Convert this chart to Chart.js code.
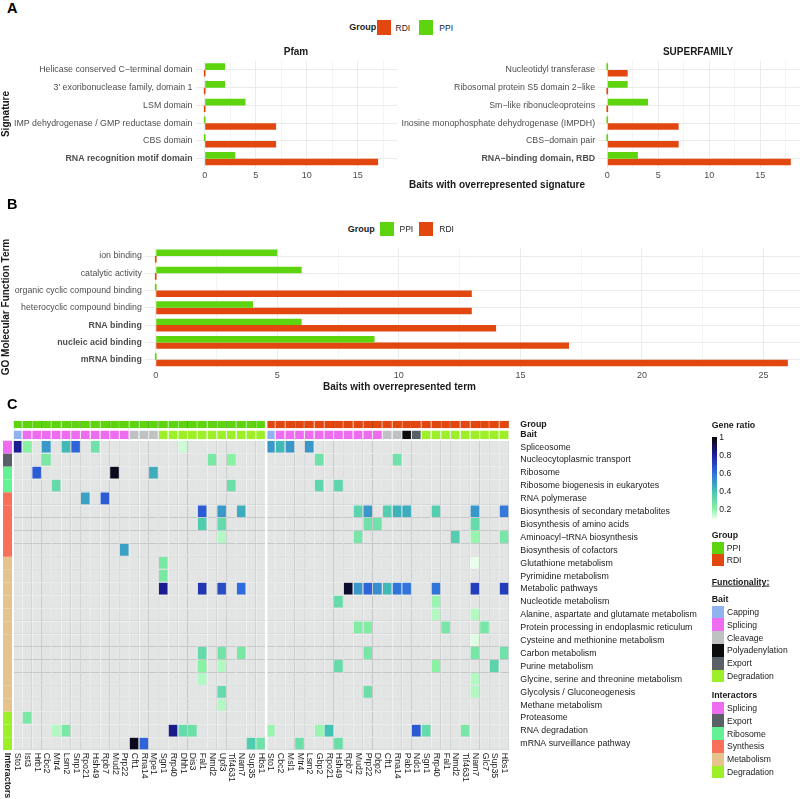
<!DOCTYPE html>
<html>
<head>
<meta charset="utf-8">
<script src="https://cdn.jsdelivr.net/npm/chart.js@4.4.1/dist/chart.umd.min.js"></script>
<style>
html,body{margin:0;padding:0;background:#fff;}
body{width:800px;height:799px;position:relative;overflow:hidden;font-family:"Liberation Sans",Arial,Helvetica,sans-serif;}
canvas{position:absolute;}
.tx{position:absolute;white-space:nowrap;line-height:1;color:#1a1a1a;}
.b{font-weight:bold;}
.c{transform:translate(-50%,-50%);}
.l{transform:translate(0,-50%);}
.r90{transform:translate(-50%,-50%) rotate(-90deg);}
.sw{position:absolute;}
</style>
</head>
<body>
<canvas id="pfam" width="400" height="150" style="left:0;top:40px"></canvas>
<canvas id="sf" width="400" height="150" style="left:400px;top:40px"></canvas>
<canvas id="go" width="800" height="150" style="left:0;top:238px"></canvas>
<canvas id="hm" width="800" height="399" style="left:0;top:400px"></canvas>
<div id="overlay"></div>
<script>
// ================= DATA =================
const groups = ['PPI', 'RDI'];

// Panel A – Pfam (top to bottom)
const pfamTerms = ['Helicase conserved C\u2212terminal domain', "3' exoribonuclease family, domain 1", 'LSM domain',
  'IMP dehydrogenase / GMP reductase domain', 'CBS domain', 'RNA recognition motif domain'];
const pfamPPI = [2, 2, 4, 0, 0, 3];
const pfamRDI = [0, 0, 0, 7, 7, 17];

// Panel A – SUPERFAMILY (top to bottom)
const sfTerms = ['Nucleotidyl transferase', 'Ribosomal protein S5 domain 2\u2212like', 'Sm\u2212like ribonucleoproteins',
  'Inosine monophosphate dehydrogenase (IMPDH)', 'CBS\u2212domain pair', 'RNA\u2212binding domain, RBD'];
const sfPPI = [0, 2, 4, 0, 0, 3];
const sfRDI = [2, 0, 0, 7, 7, 18];

// Panel B – GO molecular function (top to bottom)
const goTerms = ['ion binding', 'catalytic activity', 'organic cyclic compound binding', 'heterocyclic compound binding',
  'RNA binding', 'nucleic acid binding', 'mRNA binding'];
const goPPI = [5, 6, 0, 4, 6, 9, 0];
const goRDI = [0, 0, 13, 13, 14, 17, 26];

const boldTerms = ['RNA recognition motif domain', 'RNA\u2212binding domain, RBD', 'RNA binding', 'nucleic acid binding', 'mRNA binding'];
const xTicksA = [0, 5, 10, 15];
const xTicksB = [0, 5, 10, 15, 20, 25];

// Panel C – heatmap
const pathways = ['Spliceosome', 'Nucleocytoplasmic transport', 'Ribosome', 'Ribosome biogenesis in eukaryotes', 'RNA polymerase',
  'Biosynthesis of secondary metabolites', 'Biosynthesis of amino acids', 'Aminoacyl\u2212tRNA biosynthesis', 'Biosynthesis of cofactors',
  'Glutathione metabolism', 'Pyrimidine metabolism', 'Metabolic pathways', 'Nucleotide metabolism',
  'Alanine, aspartate and glutamate metabolism', 'Protein processing in endoplasmic reticulum', 'Cysteine and methionine metabolism',
  'Carbon metabolism', 'Purine metabolism', 'Glycine, serine and threonine metabolism', 'Glycolysis / Gluconeogenesis',
  'Methane metabolism', 'Proteasome', 'RNA degradation', 'mRNA surveillance pathway'];
const interactorClass = ['Splicing', 'Export', 'Ribosome', 'Ribosome', 'Synthesis', 'Synthesis', 'Synthesis', 'Synthesis', 'Synthesis',
  'Metabolism', 'Metabolism', 'Metabolism', 'Metabolism', 'Metabolism', 'Metabolism', 'Metabolism', 'Metabolism', 'Metabolism',
  'Metabolism', 'Metabolism', 'Metabolism', 'Degradation', 'Degradation', 'Degradation'];

const ppiBaits = ['Sto1', 'Ist3', 'Hrb1', 'Cbc2', 'Mtr4', 'Lsm2', 'Snp1', 'Rpo21', 'Hsh49', 'Rpb7', 'Mud2', 'Prp22', 'Cft1', 'Rna14',
  'Mpe1', 'Sgn1', 'Rrp40', 'Dhh1', 'Dis3', 'Fal1', 'Nmd2', 'Upf3', 'Tif4631', 'Nam7', 'Sup35', 'Hbs1'];
const ppiBaitClass = ['Capping', 'Splicing', 'Splicing', 'Splicing', 'Splicing', 'Splicing', 'Splicing', 'Splicing', 'Splicing', 'Splicing',
  'Splicing', 'Splicing', 'Cleavage', 'Cleavage', 'Cleavage', 'Degradation', 'Degradation', 'Degradation', 'Degradation', 'Degradation',
  'Degradation', 'Degradation', 'Degradation', 'Degradation', 'Degradation', 'Degradation'];
const rdiBaits = ['Sto1', 'Cbc2', 'Msl1', 'Mtr4', 'Lsm2', 'Gbp2', 'Rpo21', 'Hsh49', 'Rpb7', 'Mud2', 'Prp22', 'Dbp2', 'Cft1', 'Rna14',
  'Pab1', 'Ndc1', 'Sgn1', 'Rrp40', 'Fal1', 'Nmd2', 'Tif4631', 'Nam7', 'Glc7', 'Sup35', 'Hbs1'];
const rdiBaitClass = ['Capping', 'Splicing', 'Splicing', 'Splicing', 'Splicing', 'Splicing', 'Splicing', 'Splicing', 'Splicing', 'Splicing',
  'Splicing', 'Splicing', 'Cleavage', 'Cleavage', 'Polyadenylation', 'Export', 'Degradation', 'Degradation', 'Degradation', 'Degradation',
  'Degradation', 'Degradation', 'Degradation', 'Degradation', 'Degradation'];

// gene ratio of enriched pathway per bait  [pathway, bait, ratio]
const ppiRatio = [
  ['Spliceosome', 'Sto1', 0.82], ['Spliceosome', 'Ist3', 0.2], ['Spliceosome', 'Cbc2', 0.5], ['Spliceosome', 'Lsm2', 0.42],
  ['Spliceosome', 'Snp1', 0.62], ['Spliceosome', 'Hsh49', 0.27], ['Spliceosome', 'Dhh1', 0.12],
  ['Nucleocytoplasmic transport', 'Cbc2', 0.24], ['Nucleocytoplasmic transport', 'Nmd2', 0.24], ['Nucleocytoplasmic transport', 'Tif4631', 0.2],
  ['Ribosome', 'Hrb1', 0.64], ['Ribosome', 'Mud2', 0.97], ['Ribosome', 'Mpe1', 0.45],
  ['Ribosome biogenesis in eukaryotes', 'Mtr4', 0.3], ['Ribosome biogenesis in eukaryotes', 'Tif4631', 0.28],
  ['RNA polymerase', 'Rpo21', 0.48], ['RNA polymerase', 'Rpb7', 0.64],
  ['Biosynthesis of secondary metabolites', 'Fal1', 0.64], ['Biosynthesis of secondary metabolites', 'Upf3', 0.5],
  ['Biosynthesis of secondary metabolites', 'Nam7', 0.45],
  ['Biosynthesis of amino acids', 'Fal1', 0.36], ['Biosynthesis of amino acids', 'Upf3', 0.3],
  ['Aminoacyl\u2212tRNA biosynthesis', 'Upf3', 0.15],
  ['Biosynthesis of cofactors', 'Prp22', 0.48],
  ['Glutathione metabolism', 'Sgn1', 0.24], ['Pyrimidine metabolism', 'Sgn1', 0.24],
  ['Metabolic pathways', 'Sgn1', 0.82], ['Metabolic pathways', 'Fal1', 0.74], ['Metabolic pathways', 'Upf3', 0.68], ['Metabolic pathways', 'Nam7', 0.6],
  ['Carbon metabolism', 'Fal1', 0.3], ['Carbon metabolism', 'Upf3', 0.26], ['Carbon metabolism', 'Nam7', 0.24],
  ['Purine metabolism', 'Fal1', 0.2], ['Purine metabolism', 'Upf3', 0.15],
  ['Glycine, serine and threonine metabolism', 'Fal1', 0.15],
  ['Glycolysis / Gluconeogenesis', 'Upf3', 0.3], ['Methane metabolism', 'Upf3', 0.15],
  ['Proteasome', 'Ist3', 0.24],
  ['RNA degradation', 'Mtr4', 0.15], ['RNA degradation', 'Lsm2', 0.24], ['RNA degradation', 'Rrp40', 0.83],
  ['RNA degradation', 'Dhh1', 0.3], ['RNA degradation', 'Dis3', 0.28],
  ['mRNA surveillance pathway', 'Cft1', 0.97], ['mRNA surveillance pathway', 'Rna14', 0.62],
  ['mRNA surveillance pathway', 'Sup35', 0.36], ['mRNA surveillance pathway', 'Hbs1', 0.27]
];
const rdiRatio = [
  ['Spliceosome', 'Sto1', 0.5], ['Spliceosome', 'Cbc2', 0.42], ['Spliceosome', 'Msl1', 0.5], ['Spliceosome', 'Lsm2', 0.5],
  ['Nucleocytoplasmic transport', 'Gbp2', 0.27], ['Nucleocytoplasmic transport', 'Rna14', 0.27],
  ['Ribosome biogenesis in eukaryotes', 'Gbp2', 0.32], ['Ribosome biogenesis in eukaryotes', 'Hsh49', 0.32],
  ['Biosynthesis of secondary metabolites', 'Mud2', 0.33], ['Biosynthesis of secondary metabolites', 'Prp22', 0.5],
  ['Biosynthesis of secondary metabolites', 'Cft1', 0.35], ['Biosynthesis of secondary metabolites', 'Rna14', 0.44],
  ['Biosynthesis of secondary metabolites', 'Pab1', 0.45], ['Biosynthesis of secondary metabolites', 'Rrp40', 0.35],
  ['Biosynthesis of secondary metabolites', 'Nam7', 0.5], ['Biosynthesis of secondary metabolites', 'Hbs1', 0.57],
  ['Biosynthesis of amino acids', 'Prp22', 0.27], ['Biosynthesis of amino acids', 'Dbp2', 0.27], ['Biosynthesis of amino acids', 'Nam7', 0.3],
  ['Aminoacyl\u2212tRNA biosynthesis', 'Mud2', 0.25], ['Aminoacyl\u2212tRNA biosynthesis', 'Nmd2', 0.35],
  ['Aminoacyl\u2212tRNA biosynthesis', 'Nam7', 0.18], ['Aminoacyl\u2212tRNA biosynthesis', 'Hbs1', 0.25],
  ['Glutathione metabolism', 'Nam7', 0.09],
  ['Metabolic pathways', 'Rpb7', 0.95], ['Metabolic pathways', 'Mud2', 0.5], ['Metabolic pathways', 'Prp22', 0.62],
  ['Metabolic pathways', 'Dbp2', 0.52], ['Metabolic pathways', 'Cft1', 0.42], ['Metabolic pathways', 'Rna14', 0.58],
  ['Metabolic pathways', 'Pab1', 0.58], ['Metabolic pathways', 'Rrp40', 0.58], ['Metabolic pathways', 'Nam7', 0.72],
  ['Metabolic pathways', 'Hbs1', 0.72],
  ['Nucleotide metabolism', 'Hsh49', 0.3], ['Nucleotide metabolism', 'Rrp40', 0.18],
  ['Alanine, aspartate and glutamate metabolism', 'Rrp40', 0.15], ['Alanine, aspartate and glutamate metabolism', 'Nam7', 0.15],
  ['Protein processing in endoplasmic reticulum', 'Mud2', 0.22], ['Protein processing in endoplasmic reticulum', 'Prp22', 0.22],
  ['Protein processing in endoplasmic reticulum', 'Fal1', 0.25], ['Protein processing in endoplasmic reticulum', 'Glc7', 0.25],
  ['Cysteine and methionine metabolism', 'Nam7', 0.1],
  ['Carbon metabolism', 'Prp22', 0.25], ['Carbon metabolism', 'Nam7', 0.25], ['Carbon metabolism', 'Hbs1', 0.27],
  ['Purine metabolism', 'Hsh49', 0.3], ['Purine metabolism', 'Rrp40', 0.2], ['Purine metabolism', 'Sup35', 0.33],
  ['Glycine, serine and threonine metabolism', 'Nam7', 0.15],
  ['Glycolysis / Gluconeogenesis', 'Prp22', 0.28], ['Glycolysis / Gluconeogenesis', 'Nam7', 0.15],
  ['RNA degradation', 'Sto1', 0.18], ['RNA degradation', 'Gbp2', 0.18], ['RNA degradation', 'Rpo21', 0.4],
  ['RNA degradation', 'Ndc1', 0.65], ['RNA degradation', 'Sgn1', 0.3], ['RNA degradation', 'Tif4631', 0.25],
  ['mRNA surveillance pathway', 'Mtr4', 0.28], ['mRNA surveillance pathway', 'Hsh49', 0.28]
];
const ratioTicks = [1, 0.8, 0.6, 0.4, 0.2];
const baitClasses = ['Capping', 'Splicing', 'Cleavage', 'Polyadenylation', 'Export', 'Degradation'];
const interactorClasses = ['Splicing', 'Export', 'Ribosome', 'Synthesis', 'Metabolism', 'Degradation'];

// ================= STYLE =================
const FONT = '"Liberation Sans", Arial, Helvetica, sans-serif';
Chart.defaults.font.family = FONT;
const GREEN = '#5dd40e', ORANGE = '#e2470f';
const groupColor = { PPI: GREEN, RDI: ORANGE };
const baitColor = { Capping: '#90b3f0', Splicing: '#ee6cf0', Cleavage: '#bec2c2', Polyadenylation: '#0c0c0c', Export: '#596066', Degradation: '#9df028' };
const interColor = { Splicing: '#ee6cf0', Export: '#596066', Ribosome: '#62f293', Synthesis: '#f9705a', Metabolism: '#e6c38c', Degradation: '#9df028' };
const ratioStops = [[0.085, '#ecffec'], [0.2, '#88f2a2'], [0.4, '#42c2b2'], [0.6, '#2f6ce0'], [0.8, '#1d1ea0'], [1, '#060606']];

function hex2rgb(h) { return [1, 3, 5].map(i => parseInt(h.substr(i, 2), 16)); }
function ratioColor(v) {
  if (v === null) return '#e3e5e5';
  if (v <= ratioStops[0][0]) return ratioStops[0][1];
  for (let i = 1; i < ratioStops.length; i++) {
    const [v1, c1] = ratioStops[i];
    if (v <= v1) {
      const [v0, c0] = ratioStops[i - 1];
      const t = (v - v0) / (v1 - v0);
      const a = hex2rgb(c0), b = hex2rgb(c1);
      return 'rgb(' + a.map((x, k) => Math.round(x + (b[k] - x) * t)).join(',') + ')';
    }
  }
  return ratioStops[ratioStops.length - 1][1];
}

// ================= PANEL A / B =================
function hbar(id, labels, ppi, rdi, xmin, xmax, xTicks, g) {
  return new Chart(document.getElementById(id), {
    type: 'bar',
    data: {
      labels: labels,
      datasets: [
        { label: 'PPI', data: ppi, backgroundColor: groupColor.PPI },
        { label: 'RDI', data: rdi, backgroundColor: groupColor.RDI }
      ]
    },
    options: {
      indexAxis: 'y', responsive: false, animation: false,
      datasets: { bar: { categoryPercentage: 0.75, barPercentage: 1, minBarLength: 1.7, inflateAmount: 0 } },
      layout: { padding: { top: g.top, right: g.right, left: 0, bottom: 0 } },
      plugins: { legend: { display: false }, tooltip: { enabled: false } },
      scales: {
        x: {
          type: 'linear', min: xmin, max: xmax, border: { display: false },
          grid: {
            drawTicks: false,
            color: c => (c.tick && c.tick.value % 5 === 0) ? '#ebebeb' : '#f4f4f4',
            lineWidth: 1
          },
          ticks: {
            autoSkip: false, maxRotation: 0, padding: g.xpad, color: '#4d4d4d', font: { size: 9 },
            callback: v => xTicks.includes(v) ? String(v) : ''
          },
          afterBuildTicks: s => {
            const out = [];
            for (let v = 0; v <= s.max + 1e-9; v += 2.5) out.push({ value: v });
            s.ticks = out;
          },
          afterFit: s => { s.height = g.xh; }
        },
        y: {
          border: { display: false },
          grid: { offset: false, drawTicks: false, color: '#ebebeb' },
          ticks: {
            padding: 3, autoSkip: false, color: '#4d4d4d',
            font: c => ({ size: 8.8, weight: (c.tick && boldTerms.includes(c.tick.label)) ? 'bold' : 'normal' })
          },
          afterFit: s => { s.width = g.yw; }
        }
      }
    }
  });
}

hbar('pfam', pfamTerms, pfamPPI, pfamRDI, -0.9, 18.9, xTicksA, { top: 21.1, right: 2.5, xh: 22.5, yw: 195.5, xpad: 3 });
hbar('sf', sfTerms, sfPPI, sfRDI, -0.9, 18.9, xTicksA, { top: 21.1, right: 0, xh: 22.5, yw: 198.1, xpad: 3 });
hbar('go', goTerms, goPPI, goRDI, -0.45, 26.5, xTicksB, { top: 9.4, right: 0, xh: 19.7, yw: 144.8, xpad: 1.5 });

// ================= PANEL C =================
const nP = ppiBaits.length;
const cols = ['Interactors', ...ppiBaits, ...rdiBaits];
const colGroup = cols.map((_, i) => i === 0 ? null : (i <= nP ? 'PPI' : 'RDI'));
const colBaitClass = [null, ...ppiBaitClass, ...rdiBaitClass];
const lookup = {
  PPI: new Map(ppiRatio.map(d => [d[0] + '|' + d[1], d[2]])),
  RDI: new Map(rdiRatio.map(d => [d[0] + '|' + d[1], d[2]]))
};
function ratioAt(r, c) {
  if (c === 0) return null;
  const v = lookup[colGroup[c]].get(pathways[r] + '|' + cols[c]);
  return v === undefined ? null : v;
}
const GROUP_BAND = [-1.55, -0.96];
const BAIT_BAND = [-0.79, -0.11];

const hmDatasets = [];
hmDatasets.push({
  label: 'Group',
  data: cols.map((_, c) => c === 0 ? null : GROUP_BAND.slice()),
  backgroundColor: cols.map((_, c) => c === 0 ? 'rgba(0,0,0,0)' : groupColor[colGroup[c]]),
  borderColor: cols.map((_, c) => colGroup[c] === 'PPI' ? '#4aae08' : '#bf3a08'),
  borderWidth: { top: 0, left: 0, bottom: 0, right: 1 }
});
hmDatasets.push({
  label: 'Bait',
  data: cols.map((_, c) => c === 0 ? null : BAIT_BAND.slice()),
  backgroundColor: cols.map((_, c) => c === 0 ? 'rgba(0,0,0,0)' : baitColor[colBaitClass[c]]),
  borderColor: 'rgba(0,0,0,0.10)',
  borderWidth: { top: 0, left: 0, bottom: 0, right: 1 }
});
pathways.forEach((p, r) => {
  hmDatasets.push({
    label: p,
    data: cols.map(() => [r, r + 1]),
    backgroundColor: cols.map((_, c) => c === 0 ? interColor[interactorClass[r]] : ratioColor(ratioAt(r, c))),
    borderColor: '#c4c8c8',
    borderWidth: ctx => ctx.dataIndex === 0 ? 0 : { top: 0, left: 0, right: 1, bottom: 1 }
  });
});

const yValues = [(GROUP_BAND[0] + GROUP_BAND[1]) / 2, (BAIT_BAND[0] + BAIT_BAND[1]) / 2, ...pathways.map((_, r) => r + 0.5)];
const yLabels = ['Group', 'Bait', ...pathways];

const colLabelPlugin = {
  id: 'colLabels',
  afterDraw(chart) {
    const { ctx, chartArea } = chart;
    const x = chart.scales.x;
    ctx.save();
    ctx.fillStyle = '#1a1a1a';
    ctx.textAlign = 'left';
    ctx.textBaseline = 'middle';
    chart.data.labels.forEach((lab, i) => {
      const px = x.getPixelForValue(i);
      ctx.save();
      ctx.translate(px, chartArea.bottom + 2.5);
      ctx.rotate(Math.PI / 2);
      ctx.font = (i === 0 ? 'bold ' : '') + '8.8px ' + FONT;
      ctx.fillText(lab, 0, 0);
      ctx.restore();
    });
    ctx.restore();
  }
};

new Chart(document.getElementById('hm'), {
  type: 'bar',
  data: { labels: cols, datasets: hmDatasets },
  options: {
    responsive: false, animation: false,
    datasets: { bar: { grouped: false, categoryPercentage: 1, barPercentage: 1, borderSkipped: false, inflateAmount: 0 } },
    layout: { padding: { left: 3, top: 20.06, right: 0, bottom: 0 } },
    plugins: { legend: { display: false }, tooltip: { enabled: false } },
    scales: {
      x: {
        type: 'category', offset: true, border: { display: false },
        grid: {
          offset: true, z: 1, drawTicks: false,
          color: c => (c.index === 1 || c.index === nP + 1) ? '#ffffff' : 'rgba(255,255,255,0)',
          lineWidth: c => c.index === nP + 1 ? 2.4 : (c.index === 1 ? 1.8 : 0)
        },
        ticks: { display: false },
        afterFit: s => { s.height = 48.7; }
      },
      y: {
        type: 'linear', position: 'right', reverse: true, min: -1.6, max: 24,
        border: { display: false }, grid: { display: false },
        ticks: {
          padding: 3, autoSkip: false, color: '#1a1a1a',
          font: c => ({ size: 8.8, weight: c.index < 2 ? 'bold' : 'normal' }),
          callback: (v, i) => yLabels[i]
        },
        afterBuildTicks: s => { s.ticks = yValues.map(v => ({ value: v })); },
        afterFit: s => { s.width = 290.7; }
      }
    }
  },
  plugins: [colLabelPlugin]
});

// ================= TEXT / LEGENDS (HTML) =================
const ov = document.getElementById('overlay');
function txt(t, x, y, cls, size, extra) {
  const d = document.createElement('div');
  d.className = 'tx ' + cls;
  d.textContent = t;
  d.style.left = x + 'px';
  d.style.top = y + 'px';
  d.style.fontSize = size + 'px';
  if (extra) Object.assign(d.style, extra);
  ov.appendChild(d);
  return d;
}
function box(x, y, w, h, bg) {
  const d = document.createElement('div');
  d.className = 'sw';
  Object.assign(d.style, { left: x + 'px', top: y + 'px', width: w + 'px', height: h + 'px', background: bg });
  ov.appendChild(d);
  return d;
}
// panel letters
txt('A', 7, 1.3, 'b', 14.5, { color: '#000' });
txt('B', 7, 197, 'b', 14.5, { color: '#000' });
txt('C', 7, 397, 'b', 14.5, { color: '#000' });

// Panel A legend + titles
txt('Group', 349.3, 27.3, 'b l', 9);
box(376.5, 20.3, 14.3, 14.3, groupColor.RDI); txt('RDI', 395.5, 27.5, 'l', 8.5, { color: '#222' });
box(418.5, 20.3, 14.3, 14.3, groupColor.PPI); txt('PPI', 439.3, 27.5, 'l', 8.5, { color: '#222' });
txt('Pfam', 296, 51.7, 'b c', 10);
txt('SUPERFAMILY', 698, 51.7, 'b c', 10);
txt('Signature', 5.5, 114, 'b r90', 10);
txt('Baits with overrepresented signature', 497, 185, 'b c', 10);

// Panel B legend + titles
txt('Group', 347.7, 228.5, 'b l', 9);
box(380, 221.7, 14.3, 14.3, groupColor.PPI); txt('PPI', 399.5, 228.7, 'l', 8.5, { color: '#222' });
box(419, 221.7, 14.3, 14.3, groupColor.RDI); txt('RDI', 439.3, 228.7, 'l', 8.5, { color: '#222' });
txt('GO Molecular Function Term', 5.5, 307, 'b r90', 10);
txt('Baits with overrepresented term', 399.5, 387.3, 'b c', 10);

// Panel C legends
const LX = 711.7;
txt('Gene ratio', LX, 425, 'b l', 8.8);
const grad = ratioStops.slice().reverse().map(s => s[1] + ' ' + ((1 - s[0]) / (1 - ratioStops[0][0]) * 100).toFixed(1) + '%').join(',');
box(LX, 437.3, 5, 82, 'linear-gradient(to bottom,' + grad + ')');
ratioTicks.forEach(v => txt(String(v), 719.3, 437.3 + (1 - v) * 89.6, 'l', 8.6));
txt('Group', LX, 535, 'b l', 8.8);
groups.forEach((g, i) => { box(LX, 541.7 + i * 12.2, 12.7, 12.2, groupColor[g]); txt(g, 726.7, 547.8 + i * 12.2, 'l', 8.6); });
txt('Functionality:', LX, 582.3, 'b l', 8.8, { textDecoration: 'underline' });
txt('Bait', LX, 599.3, 'b l', 8.8);
baitClasses.forEach((b, i) => { box(LX, 605.6 + i * 12.8, 12.7, 12.8, baitColor[b]); txt(b, 727, 612 + i * 12.8, 'l', 8.6); });
txt('Interactors', LX, 695.3, 'b l', 8.8);
interactorClasses.forEach((b, i) => { box(LX, 701.6 + i * 12.8, 12.7, 12.8, interColor[b]); txt(b, 727, 708 + i * 12.8, 'l', 8.6); });
</script>
</body>
</html>
